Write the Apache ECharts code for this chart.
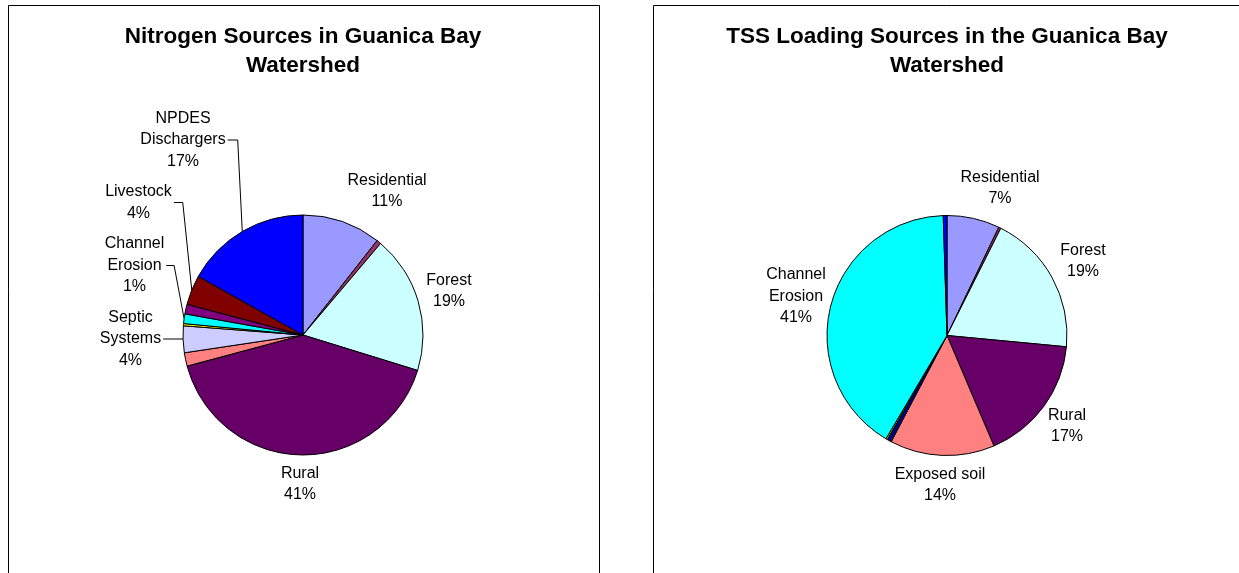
<!DOCTYPE html>
<html><head><meta charset="utf-8">
<script src="https://cdn.jsdelivr.net/npm/echarts@6/dist/echarts.min.js"></script>
<style>html,body{margin:0;padding:0;background:#fff}#c{width:1239px;height:573px}</style>
</head><body><div id="c"></div>
<script>
// ---- Data (percent of total) ----
const nitrogenTitle = 'Nitrogen Sources in Guanica Bay\nWatershed';
const nitrogenCategories = ['Residential', 'Other A', 'Forest', 'Rural', 'Other B', 'Septic Systems', 'Other C', 'Channel Erosion', 'Other D', 'Livestock', 'NPDES Dischargers'];
const nitrogenValues = [10.6, 0.6, 18.6, 41.1, 1.8, 3.6, 0.3, 1.3, 1.3, 4.0, 16.9];
const nitrogenColors = ['#9999FF', '#993366', '#CCFFFF', '#660066', '#FF8080', '#CCCCFF', '#FFFF00', '#00FFFF', '#800080', '#800000', '#0000FF'];

const tssTitle = 'TSS Loading Sources in the Guanica Bay\nWatershed';
const tssCategories = ['Residential', 'Other A', 'Forest', 'Rural', 'Exposed soil', 'Other E', 'Other C', 'Channel Erosion', 'NPDES Dischargers'];
const tssValues = [7.1, 0.3, 19.1, 17.1, 14.1, 0.6, 0.2, 41.0, 0.5];
const tssColors = ['#9999FF', '#993366', '#CCFFFF', '#660066', '#FF8080', '#000080', '#FFFF00', '#00FFFF', '#0000FF'];

// ---- Layout (label placement, Excel-like) ----
const wrapNames = {'NPDES Dischargers': 'NPDES\nDischargers', 'Channel Erosion': 'Channel\nErosion', 'Septic Systems': 'Septic\nSystems'};
const nitrogenLabelPos = {
  'Residential': {x: 387, y: 191},
  'Forest': {x: 449, y: 291},
  'Rural': {x: 300, y: 484},
  'Septic Systems': {x: 130.5, y: 339, bend: 0},
  'Channel Erosion': {x: 134.5, y: 265.5, bend: 10},
  'Livestock': {x: 138.5, y: 202.5, bend: 9},
  'NPDES Dischargers': {x: 183, y: 140, bend: 4.6}
};
const tssLabelPos = {
  'Residential': {x: 1000, y: 188},
  'Forest': {x: 1083, y: 261},
  'Rural': {x: 1067, y: 426},
  'Exposed soil': {x: 940, y: 485},
  'Channel Erosion': {x: 796, y: 296.5}
};

const FONT = 'Liberation Sans, Arial, Helvetica, sans-serif';

function buildData(names, values, colors, pos) {
  return names.map(function (n, i) {
    const shown = !!pos[n];
    const hasLine = shown && pos[n].bend != null;
    return {
      name: n, value: values[i],
      itemStyle: {color: colors[i]},
      label: {show: shown},
      labelLine: {show: hasLine}
    };
  });
}

function makeLayout(names, values, pos, cx, cy, r) {
  const total = values.reduce(function (a, b) { return a + b; }, 0);
  return function (params) {
    const name = names[params.dataIndex];
    const p = pos[name];
    if (!p) return {};
    const out = {x: p.x, y: p.y, align: 'center', verticalAlign: 'middle'};
    if (p.bend != null) {
      let a = params.labelLinePoints && params.labelLinePoints[0];
      if (!a) {
        let cum = 0;
        for (let i = 0; i < params.dataIndex; i++) cum += values[i];
        const mid = (cum + values[params.dataIndex] / 2) / total * 2 * Math.PI;
        a = [cx + r * Math.sin(mid), cy - r * Math.cos(mid)];
      }
      const sx = p.x + params.labelRect.width / 2 + 2;
      out.labelLinePoints = [[sx, p.y], [a[0] - p.bend, p.y], a];
    }
    return out;
  };
}

function pieSeries(names, values, colors, pos, cx, cy, r) {
  return {
    type: 'pie',
    center: [cx, cy],
    radius: r,
    startAngle: 90,
    clockwise: true,
    avoidLabelOverlap: false,
    animation: false,
    silent: true,
    emphasis: {disabled: true},
    itemStyle: {borderColor: '#000', borderWidth: 1},
    label: {
      position: 'outside',
      color: '#000',
      fontFamily: FONT,
      fontSize: 16,
      lineHeight: 21.5,
      formatter: function (prm) {
        return (wrapNames[prm.name] || prm.name) + '\n' + Math.round(prm.value) + '%';
      }
    },
    labelLine: {lineStyle: {color: '#000', width: 1}, smooth: false},
    labelLayout: makeLayout(names, values, pos, cx, cy, r),
    data: buildData(names, values, colors, pos)
  };
}

const chart = echarts.init(document.getElementById('c'), null, {renderer: 'canvas'});
chart.setOption({
  backgroundColor: '#fff',
  animation: false,
  title: [
    {text: nitrogenTitle, left: 303, top: 22, textAlign: 'center', padding: 0,
     textStyle: {fontFamily: FONT, fontSize: 22.5, fontWeight: 'bold', color: '#000', lineHeight: 29}},
    {text: tssTitle, left: 947, top: 22, textAlign: 'center', padding: 0,
     textStyle: {fontFamily: FONT, fontSize: 22.5, fontWeight: 'bold', color: '#000', lineHeight: 29}}
  ],
  graphic: [
    {type: 'rect', shape: {x: 8.5, y: 5.5, width: 591, height: 620}, style: {fill: null, stroke: '#000', lineWidth: 1}, z: -1},
    {type: 'rect', shape: {x: 653.5, y: 5.5, width: 700, height: 620}, style: {fill: null, stroke: '#000', lineWidth: 1}, z: -1}
  ],
  series: [
    pieSeries(nitrogenCategories, nitrogenValues, nitrogenColors, nitrogenLabelPos, 303, 335, 120),
    pieSeries(tssCategories, tssValues, tssColors, tssLabelPos, 947, 335.5, 120)
  ]
});
</script>
</body></html>
